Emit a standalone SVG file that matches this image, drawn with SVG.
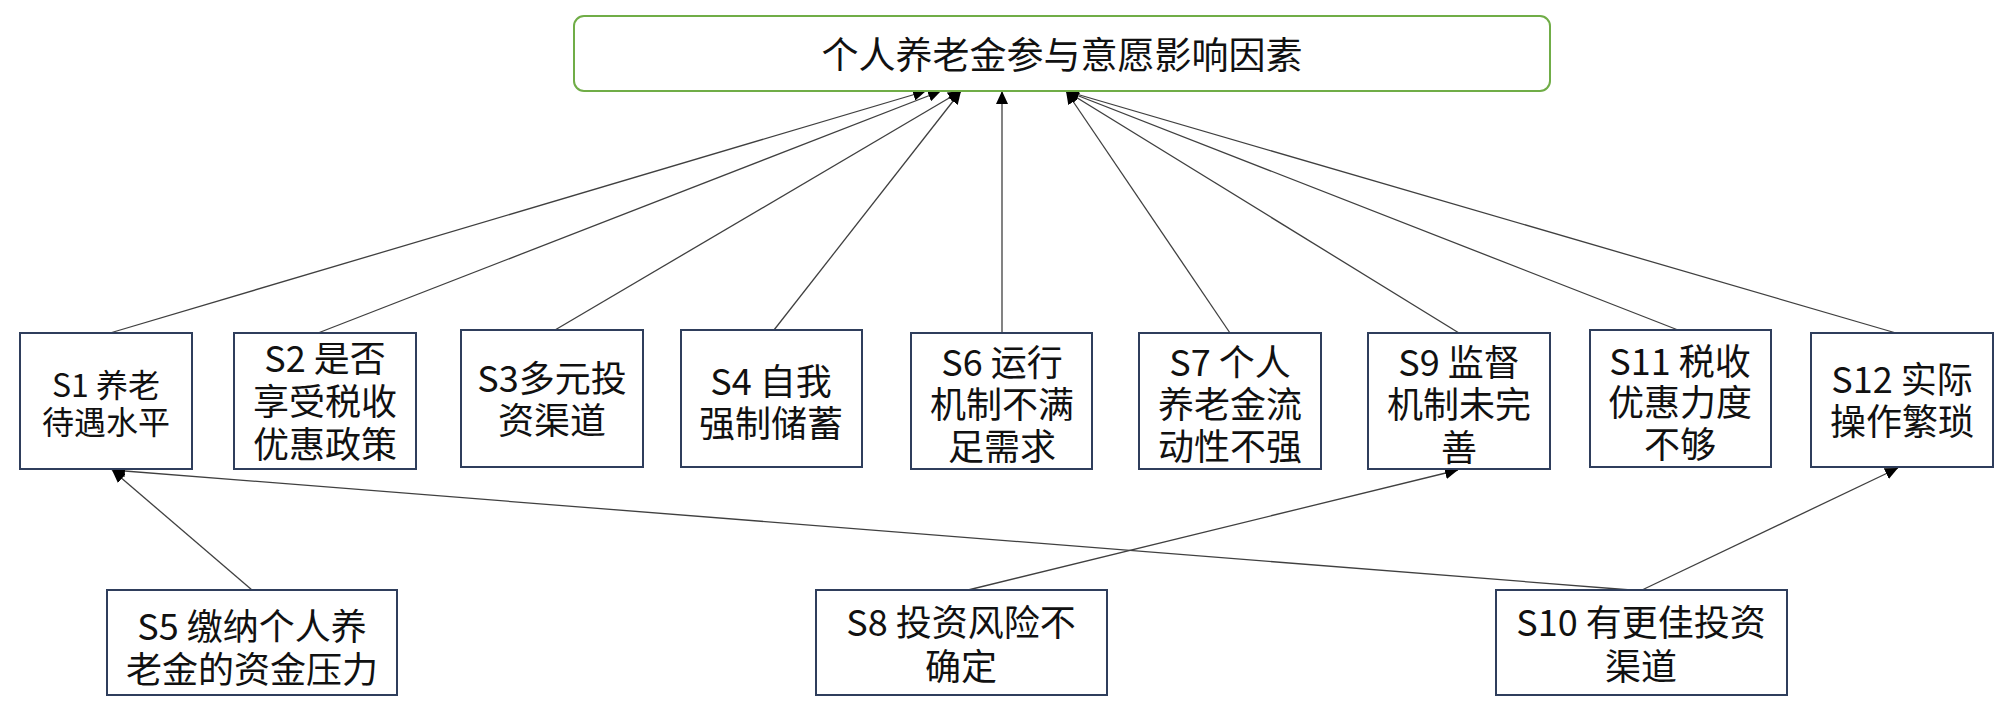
<svg xmlns="http://www.w3.org/2000/svg" width="2000" height="712" viewBox="0 0 2000 712">
<defs>
<marker id="arr" markerUnits="userSpaceOnUse" markerWidth="14" markerHeight="12" refX="13" refY="6" orient="auto">
<path d="M0,0 L13,6 L0,12 Z" fill="#000"/>
</marker>
<style>
.box{fill:#fff;stroke:#2F3E5C;stroke-width:2}
.title{fill:#fff;stroke:#70AD47;stroke-width:2}
.t{font-family:"Noto Sans CJK SC","Noto Sans",sans-serif;font-size:36px;fill:#111;text-anchor:middle}
.t1{font-size:32px}
.tt{font-size:37px}
.c line{stroke:#404040;stroke-width:1.3;marker-end:url(#arr)}
</style>
</defs>
<rect width="2000" height="712" fill="#fff"/>
<g id="connectors" class="c">
<line x1="110" y1="333" x2="926" y2="91"/>
<line x1="318" y1="333" x2="941" y2="91"/>
<line x1="555" y1="330" x2="961" y2="91"/>
<line x1="774" y1="330" x2="961" y2="91"/>
<line x1="1002" y1="333" x2="1002" y2="91"/>
<line x1="1230" y1="333" x2="1066" y2="91"/>
<line x1="1459" y1="333" x2="1066" y2="91"/>
<line x1="1678" y1="330" x2="1066" y2="91"/>
<line x1="1896" y1="333" x2="1066" y2="91"/>
<line x1="252" y1="590" x2="112" y2="470"/>
<line x1="1631" y1="590" x2="112" y2="470"/>
<line x1="968" y1="590" x2="1458" y2="470"/>
<line x1="1642" y1="590" x2="1898" y2="468"/>
</g>
<g id="title">
<rect class="title" x="574" y="16" width="976" height="75" rx="10"/>
<text class="t tt" x="1062" y="69">个人养老金参与意愿影响因素</text>
</g>
<g id="S1">
<rect class="box" x="20" y="333" width="172" height="136"/>
<text class="t t1" x="106" y="397">S1 养老</text>
<text class="t t1" x="106" y="434">待遇水平</text>
</g>
<g id="S2">
<rect class="box" x="234" y="333" width="182" height="136"/>
<text class="t" x="325" y="372">S2 是否</text>
<text class="t" x="325" y="415">享受税收</text>
<text class="t" x="325" y="458">优惠政策</text>
</g>
<g id="S3">
<rect class="box" x="461" y="330" width="182" height="137"/>
<text class="t" x="552" y="392">S3多元投</text>
<text class="t" x="552" y="434">资渠道</text>
</g>
<g id="S4">
<rect class="box" x="681" y="330" width="181" height="137"/>
<text class="t" x="771" y="395">S4 自我</text>
<text class="t" x="771" y="437">强制储蓄</text>
</g>
<g id="S6">
<rect class="box" x="911" y="333" width="181" height="136"/>
<text class="t" x="1002" y="376">S6 运行</text>
<text class="t" x="1002" y="418">机制不满</text>
<text class="t" x="1002" y="460">足需求</text>
</g>
<g id="S7">
<rect class="box" x="1139" y="333" width="182" height="136"/>
<text class="t" x="1230" y="376">S7 个人</text>
<text class="t" x="1230" y="418">养老金流</text>
<text class="t" x="1230" y="460">动性不强</text>
</g>
<g id="S9">
<rect class="box" x="1368" y="333" width="182" height="136"/>
<text class="t" x="1459" y="376">S9 监督</text>
<text class="t" x="1459" y="418">机制未完</text>
<text class="t" x="1459" y="461">善</text>
</g>
<g id="S11">
<rect class="box" x="1590" y="330" width="181" height="137"/>
<text class="t" x="1680" y="375">S11 税收</text>
<text class="t" x="1680" y="416">优惠力度</text>
<text class="t" x="1680" y="458">不够</text>
</g>
<g id="S12">
<rect class="box" x="1811" y="333" width="182" height="134"/>
<text class="t" x="1902" y="393">S12 实际</text>
<text class="t" x="1902" y="435">操作繁琐</text>
</g>
<g id="S5">
<rect class="box" x="107" y="590" width="290" height="105"/>
<text class="t" x="252" y="640">S5 缴纳个人养</text>
<text class="t" x="252" y="683">老金的资金压力</text>
</g>
<g id="S8">
<rect class="box" x="816" y="590" width="291" height="105"/>
<text class="t" x="961" y="636">S8 投资风险不</text>
<text class="t" x="961" y="680">确定</text>
</g>
<g id="S10">
<rect class="box" x="1496" y="590" width="291" height="105"/>
<text class="t" x="1641" y="636">S10 有更佳投资</text>
<text class="t" x="1641" y="680">渠道</text>
</g>
</svg>
